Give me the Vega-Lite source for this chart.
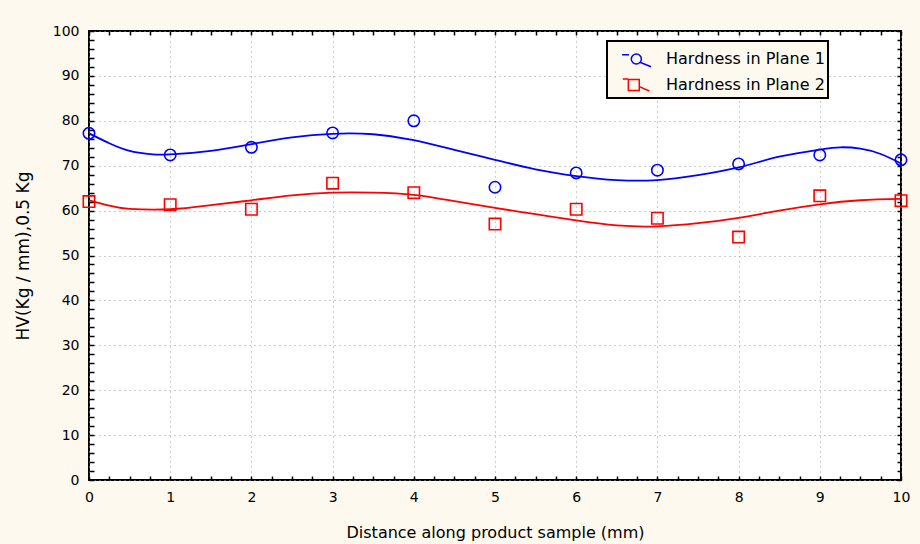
{
  "$schema": "https://vega.github.io/schema/vega-lite/v6.json",
  "width": 812,
  "height": 449,
  "autosize": {"type": "none"},
  "padding": {"left": 89, "top": 31, "right": 19, "bottom": 64},
  "background": "#fdf9ee",
  "config": {
    "view": {"fill": "white", "stroke": "black", "strokeWidth": 2},
    "font": "DejaVu Sans",
    "axis": {"labelFont": "DejaVu Sans", "labelFontSize": 14, "labelColor": "black", "titleFont": "DejaVu Sans", "titleFontSize": 14, "titleFontWeight": "normal", "titleColor": "black"}
  },
  "datasets": {
    "points": [
      {"x": 0, "v": 77.2, "series": "Hardness in Plane 1"},
      {"x": 1, "v": 72.4, "series": "Hardness in Plane 1"},
      {"x": 2, "v": 74.1, "series": "Hardness in Plane 1"},
      {"x": 3, "v": 77.3, "series": "Hardness in Plane 1"},
      {"x": 4, "v": 80.0, "series": "Hardness in Plane 1"},
      {"x": 5, "v": 65.2, "series": "Hardness in Plane 1"},
      {"x": 6, "v": 68.4, "series": "Hardness in Plane 1"},
      {"x": 7, "v": 69.0, "series": "Hardness in Plane 1"},
      {"x": 8, "v": 70.4, "series": "Hardness in Plane 1"},
      {"x": 9, "v": 72.4, "series": "Hardness in Plane 1"},
      {"x": 10, "v": 71.3, "series": "Hardness in Plane 1"},
      {"x": 0, "v": 62.0, "series": "Hardness in Plane 2"},
      {"x": 1, "v": 61.3, "series": "Hardness in Plane 2"},
      {"x": 2, "v": 60.3, "series": "Hardness in Plane 2"},
      {"x": 3, "v": 66.1, "series": "Hardness in Plane 2"},
      {"x": 4, "v": 64.0, "series": "Hardness in Plane 2"},
      {"x": 5, "v": 57.0, "series": "Hardness in Plane 2"},
      {"x": 6, "v": 60.3, "series": "Hardness in Plane 2"},
      {"x": 7, "v": 58.3, "series": "Hardness in Plane 2"},
      {"x": 8, "v": 54.1, "series": "Hardness in Plane 2"},
      {"x": 9, "v": 63.3, "series": "Hardness in Plane 2"},
      {"x": 10, "v": 62.2, "series": "Hardness in Plane 2"}
    ],
    "curve": [
      {"x": 0, "v": 77.2, "series": "Hardness in Plane 1"},
      {"x": 0.25, "v": 75.0, "series": "Hardness in Plane 1"},
      {"x": 0.5, "v": 73.3, "series": "Hardness in Plane 1"},
      {"x": 0.75, "v": 72.6, "series": "Hardness in Plane 1"},
      {"x": 1, "v": 72.5, "series": "Hardness in Plane 1"},
      {"x": 1.5, "v": 73.3, "series": "Hardness in Plane 1"},
      {"x": 2, "v": 74.8, "series": "Hardness in Plane 1"},
      {"x": 2.5, "v": 76.3, "series": "Hardness in Plane 1"},
      {"x": 3, "v": 77.1, "series": "Hardness in Plane 1"},
      {"x": 3.5, "v": 77.0, "series": "Hardness in Plane 1"},
      {"x": 4, "v": 75.7, "series": "Hardness in Plane 1"},
      {"x": 4.5, "v": 73.5, "series": "Hardness in Plane 1"},
      {"x": 5, "v": 71.3, "series": "Hardness in Plane 1"},
      {"x": 5.5, "v": 69.2, "series": "Hardness in Plane 1"},
      {"x": 6, "v": 67.7, "series": "Hardness in Plane 1"},
      {"x": 6.5, "v": 66.8, "series": "Hardness in Plane 1"},
      {"x": 7, "v": 66.8, "series": "Hardness in Plane 1"},
      {"x": 7.5, "v": 67.9, "series": "Hardness in Plane 1"},
      {"x": 8, "v": 69.6, "series": "Hardness in Plane 1"},
      {"x": 8.5, "v": 72.0, "series": "Hardness in Plane 1"},
      {"x": 9, "v": 73.6, "series": "Hardness in Plane 1"},
      {"x": 9.25, "v": 74.1, "series": "Hardness in Plane 1"},
      {"x": 9.5, "v": 73.8, "series": "Hardness in Plane 1"},
      {"x": 9.75, "v": 72.6, "series": "Hardness in Plane 1"},
      {"x": 10, "v": 70.5, "series": "Hardness in Plane 1"},
      {"x": 0, "v": 62.3, "series": "Hardness in Plane 2"},
      {"x": 0.25, "v": 61.1, "series": "Hardness in Plane 2"},
      {"x": 0.5, "v": 60.4, "series": "Hardness in Plane 2"},
      {"x": 1, "v": 60.3, "series": "Hardness in Plane 2"},
      {"x": 1.5, "v": 61.2, "series": "Hardness in Plane 2"},
      {"x": 2, "v": 62.3, "series": "Hardness in Plane 2"},
      {"x": 2.5, "v": 63.4, "series": "Hardness in Plane 2"},
      {"x": 3, "v": 64.0, "series": "Hardness in Plane 2"},
      {"x": 3.5, "v": 64.0, "series": "Hardness in Plane 2"},
      {"x": 4, "v": 63.5, "series": "Hardness in Plane 2"},
      {"x": 4.5, "v": 62.1, "series": "Hardness in Plane 2"},
      {"x": 5, "v": 60.6, "series": "Hardness in Plane 2"},
      {"x": 5.5, "v": 59.2, "series": "Hardness in Plane 2"},
      {"x": 6, "v": 57.8, "series": "Hardness in Plane 2"},
      {"x": 6.5, "v": 56.7, "series": "Hardness in Plane 2"},
      {"x": 7, "v": 56.5, "series": "Hardness in Plane 2"},
      {"x": 7.5, "v": 57.2, "series": "Hardness in Plane 2"},
      {"x": 8, "v": 58.4, "series": "Hardness in Plane 2"},
      {"x": 8.5, "v": 60.0, "series": "Hardness in Plane 2"},
      {"x": 9, "v": 61.4, "series": "Hardness in Plane 2"},
      {"x": 9.5, "v": 62.3, "series": "Hardness in Plane 2"},
      {"x": 10, "v": 62.6, "series": "Hardness in Plane 2"}
    ]
  },
  "layer": [
    {
      "data": {"name": "curve"},
      "mark": {"type": "line", "interpolate": "natural", "strokeWidth": 1.8, "clip": true},
      "encoding": {
        "x": {"field": "x", "type": "quantitative", "scale": {"domain": [0, 10], "nice": false},
          "axis": {"orient": "top", "values": [0,0.25,0.5,0.75,1,1.25,1.5,1.75,2,2.25,2.5,2.75,3,3.25,3.5,3.75,4,4.25,4.5,4.75,5,5.25,5.5,5.75,6,6.25,6.5,6.75,7,7.25,7.5,7.75,8,8.25,8.5,8.75,9,9.25,9.5,9.75,10],
            "labels": false, "grid": false, "domain": false, "title": null, "tickSize": -4, "tickWidth": 1.5, "tickColor": "black"}},
        "y": {"field": "v", "type": "quantitative", "scale": {"domain": [0, 100], "nice": false},
          "axis": {"orient": "right", "values": [0,2,4,6,8,10,12,14,16,18,20,22,24,26,28,30,32,34,36,38,40,42,44,46,48,50,52,54,56,58,60,62,64,66,68,70,72,74,76,78,80,82,84,86,88,90,92,94,96,98,100],
            "labels": false, "grid": false, "domain": false, "title": null, "tickSize": -4, "tickWidth": 1.5, "tickColor": "black"}},
        "color": {"field": "series", "type": "nominal", "scale": {"domain": ["Hardness in Plane 1", "Hardness in Plane 2"], "range": ["#0000ff", "#ff0000"]}}
      }
    },
    {
      "data": {"name": "points"},
      "transform": [{"filter": "datum.series === 'Hardness in Plane 1'"}],
      "mark": {"type": "point", "shape": "circle", "filled": false, "strokeWidth": 1.6, "size": 130, "opacity": 1, "color": "#0000ff"},
      "encoding": {
        "x": {"field": "x", "type": "quantitative",
          "axis": {"orient": "bottom", "values": [0,0.25,0.5,0.75,1,1.25,1.5,1.75,2,2.25,2.5,2.75,3,3.25,3.5,3.75,4,4.25,4.5,4.75,5,5.25,5.5,5.75,6,6.25,6.5,6.75,7,7.25,7.5,7.75,8,8.25,8.5,8.75,9,9.25,9.5,9.75,10],
            "labelExpr": "datum.value % 1 === 0 ? '' + datum.value : ''", "domain": false,
            "tickSize": -4, "tickWidth": 1.5, "tickColor": "black", "labelPadding": 14, "labelFlush": false,
            "grid": true, "gridColor": "#9a9a9a", "gridDash": [1, 4], "gridWidth": 1,
            "gridOpacity": {"condition": {"test": "datum.value % 1 !== 0", "value": 0}, "value": 1},
            "title": "Distance along product sample (mm)", "titleFontSize": 16, "titlePadding": 20}},
        "y": {"field": "v", "type": "quantitative",
          "axis": {"orient": "left", "values": [0,2,4,6,8,10,12,14,16,18,20,22,24,26,28,30,32,34,36,38,40,42,44,46,48,50,52,54,56,58,60,62,64,66,68,70,72,74,76,78,80,82,84,86,88,90,92,94,96,98,100],
            "labelExpr": "datum.value % 10 === 0 ? '' + datum.value : ''", "domain": false,
            "tickSize": -5, "tickWidth": 1.5, "tickColor": "black", "labelPadding": 15, "labelFlush": false,
            "grid": true, "gridColor": "#9a9a9a", "gridDash": [1, 4], "gridWidth": 1,
            "gridOpacity": {"condition": {"test": "datum.value % 10 !== 0", "value": 0}, "value": 1},
            "title": "HV(Kg / mm),0.5 Kg", "titleFontSize": 17, "titlePadding": 20}}
      }
    },
    {
      "data": {"name": "points"},
      "transform": [{"filter": "datum.series === 'Hardness in Plane 2'"}],
      "mark": {"type": "point", "shape": "square", "filled": false, "strokeWidth": 1.6, "size": 130, "opacity": 1, "color": "#ff0000"},
      "encoding": {
        "x": {"field": "x", "type": "quantitative", "axis": null},
        "y": {"field": "v", "type": "quantitative", "axis": null}
      }
    },
    {
      "data": {"name": "points"},
      "transform": [{"filter": "false"}],
      "mark": {"type": "point", "filled": false, "strokeWidth": 1.5, "size": 784, "opacity": 1},
      "encoding": {
        "x": {"field": "x", "type": "quantitative", "axis": null},
        "y": {"field": "v", "type": "quantitative", "axis": null},
        "color": {"field": "series", "type": "nominal",
          "legend": {"title": null, "orient": "none", "legendX": 518, "legendY": 10, "padding": 3, "rowPadding": -1,
            "symbolSize": 784, "labelOffset": 26, "labelFont": "DejaVu Sans", "labelFontSize": 16, "labelColor": "black",
            "fillColor": "#fdf9ee", "strokeColor": "black",
            "encoding": {
              "legend": {"strokeWidth": {"value": 2}},
              "symbols": {
                "size": {"value": 784},
                "fill": {"value": "transparent"},
                "strokeWidth": {"value": 1.5}
              }
            }}},
        "shape": {"field": "series", "type": "nominal", "legend": null,
          "scale": {"domain": ["Hardness in Plane 1", "Hardness in Plane 2"],
            "range": ["M-0.21,-0.3L0.29,-0.3M0.45,0A0.36,0.36 0 1,1 1.17,0A0.36,0.36 0 1,1 0.45,0M1.11,0.25L1.86,0.55", "M-0.16,-0.43L0.24,-0.43M0.24,-0.39L1.02,-0.39L1.02,0.39L0.24,0.39Z M1.02,0.12L1.74,0.43"]}}
      }
    }
  ],
  "resolve": {"axis": {"x": "independent", "y": "independent"}}
}
